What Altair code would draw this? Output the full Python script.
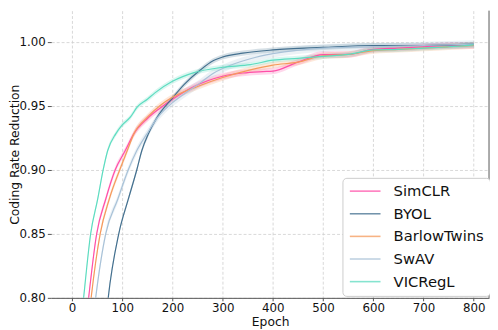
import altair as alt
import pandas as pd

series_names = ["SimCLR", "BYOL", "BarlowTwins", "SwAV", "VICRegL"]
series_colors = ["#ff4fa8", "#44708f", "#f59a5c", "#a9c2d8", "#5ddcc0"]
band_half = [0.0025, 0.002, 0.0025, 0.003, 0.002]

simclr_ep = [20, 33, 49, 67, 86, 106, 123, 150, 175, 200, 243, 300, 340, 380, 400, 450, 500, 550, 600, 650, 700, 750, 800]
simclr_v = [0.75, 0.80, 0.85, 0.877, 0.90, 0.915, 0.928, 0.940, 0.948, 0.955, 0.965, 0.973, 0.9755, 0.9766, 0.977, 0.984, 0.9899, 0.990, 0.994, 0.995, 0.996, 0.997, 0.997]

byol_ep = [60, 72, 93, 112, 129, 139, 152, 168, 200, 223, 256, 281, 300, 340, 400, 500, 600, 700, 800]
byol_v = [0.75, 0.80, 0.85, 0.877, 0.90, 0.915, 0.928, 0.940, 0.956, 0.9664, 0.978, 0.985, 0.988, 0.991, 0.9935, 0.9955, 0.997, 0.997, 0.998]

barlow_ep = [25, 38, 56, 74, 95, 110, 123, 150, 175, 200, 250, 300, 355, 400, 450, 500, 550, 600, 650, 700, 750, 800]
barlow_v = [0.75, 0.80, 0.85, 0.877, 0.90, 0.915, 0.928, 0.941, 0.950, 0.9565, 0.965, 0.972, 0.978, 0.9817, 0.984, 0.989, 0.990, 0.993, 0.994, 0.995, 0.996, 0.997]

swav_ep = [33, 47, 67, 91, 112, 129, 149, 171, 204, 230, 256, 280, 300, 355, 400, 500, 600, 700, 800]
swav_v = [0.75, 0.80, 0.85, 0.877, 0.90, 0.915, 0.928, 0.941, 0.9536, 0.961, 0.968, 0.975, 0.979, 0.9866, 0.9906, 0.995, 0.996, 0.997, 0.998]

vicregl_ep = [10, 23, 37, 51, 62, 71, 87, 100, 116, 130, 150, 165, 200, 243, 300, 355, 400, 450, 500, 550, 600, 650, 700, 750, 800]
vicregl_v = [0.75, 0.80, 0.85, 0.877, 0.90, 0.915, 0.928, 0.935, 0.941, 0.949, 0.955, 0.960, 0.969, 0.9758, 0.980, 0.982, 0.9855, 0.987, 0.9885, 0.990, 0.9935, 0.994, 0.995, 0.996, 0.9975]

x_ticks = [0, 100, 200, 300, 400, 500, 600, 700, 800]
y_ticks = [0.80, 0.85, 0.90, 0.95, 1.00]

all_eps = [simclr_ep, byol_ep, barlow_ep, swav_ep, vicregl_ep]
all_vals = [simclr_v, byol_v, barlow_v, swav_v, vicregl_v]

rows = []
for name, eps, vals, hw in zip(series_names, all_eps, all_vals, band_half):
    for e, v in zip(eps, vals):
        rows.append({"series": name, "epoch": e, "value": v, "lo": v - hw, "hi": v + hw})
df = pd.DataFrame(rows)

W, H = 445, 292
xscale = alt.Scale(domain=[-41.4, 830.5], nice=False, zero=False)
yscale = alt.Scale(domain=[0.80, 1.0242], nice=False, zero=False)
cscale = alt.Scale(domain=series_names, range=series_colors)

font = "DejaVu Sans"

legend = alt.Legend(orient="none", legendX=296, legendY=170,
                    symbolType="M-1,0H4.2", symbolSize=144,
                    symbolStrokeWidth=1.6, symbolOpacity=0.75,
                    labelOffset=31, labelFontSize=15, labelFont=font,
                    labelColor="#111111",
                    rowPadding=7, padding=6,
                    fillColor="white", strokeColor="#cccccc",
                    cornerRadius=4)

color = alt.Color("series:N", scale=cscale, title=None, sort=series_names, legend=legend)

bands = alt.Chart(df).mark_area(opacity=0.22, clip=True, interpolate="monotone").encode(
    x=alt.X("epoch:Q", scale=xscale),
    y=alt.Y("lo:Q", scale=yscale),
    y2="hi:Q",
    color=color,
    detail="series:N",
)

lines = alt.Chart(df).mark_line(strokeWidth=1.2, clip=True, interpolate="monotone").encode(
    x=alt.X("epoch:Q", scale=xscale,
            axis=alt.Axis(values=x_ticks, title="Epoch", format="d", domain=True,
                          domainColor="#555555", domainWidth=1, tickSize=3, tickColor="#555555",
                          labelPadding=2, titleY=18, titleBaseline="top")),
    y=alt.Y("value:Q", scale=yscale,
            axis=alt.Axis(values=y_ticks, title="Coding Rate Reduction", format=".2f",
                          domain=False, tickSize=4, tickColor="#555555", labelPadding=2,
                          titleX=-43, titleY=H / 2, titleAngle=270, titleBaseline="top")),
    color=color,
    order="epoch:Q",
)

spine = alt.Chart(pd.DataFrame({"a": [0]})).mark_rule(color="#555555", strokeWidth=1).encode(
    x=alt.value(W), y=alt.value(0), y2=alt.value(H)
)

chart = alt.layer(bands, lines, spine).properties(
    width=W, height=H,
    autosize=alt.AutoSizeParams(type="none"),
    padding={"left": 44, "top": 0, "right": 1, "bottom": 30},
).configure_view(strokeWidth=0).configure_axis(
    labelFont=font, titleFont=font, labelFontSize=12, titleFontSize=12.5,
    titleFontWeight="normal", labelColor="#111111", titleColor="#111111",
    gridColor="#cfcfcf", gridDash=[3, 2], gridWidth=0.8,
)

chart.save("out.html", embed_options={"renderer": "svg", "actions": False})
